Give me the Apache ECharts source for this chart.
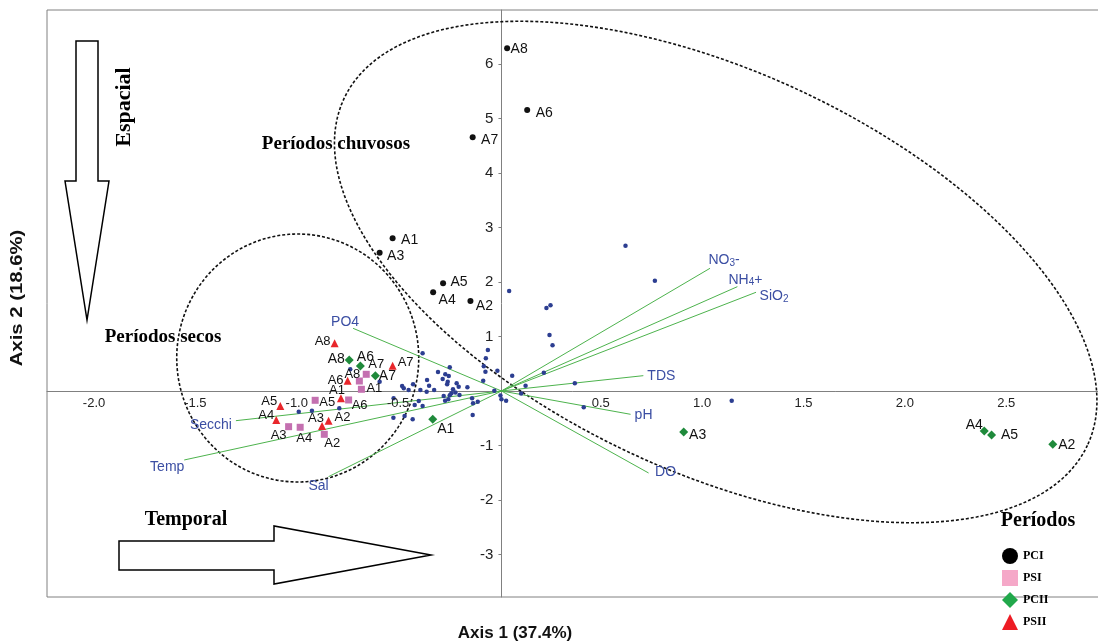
<!DOCTYPE html>
<html>
<head>
<meta charset="utf-8">
<script src="https://cdn.jsdelivr.net/npm/echarts@6/dist/echarts.min.js"></script>
<style>
  html, body { margin: 0; padding: 0; background: #ffffff; }
  #chart { width: 1098px; height: 644px; }
</style>
</head>
<body>
<div id="chart"></div>
<script>
// ---- PCA scores of the sampling sites (Axis 1, Axis 2), one list per period ----
const siteNames = ['A1', 'A2', 'A3', 'A4', 'A5', 'A6', 'A7', 'A8'];
const pciScores  = [[-0.537, 2.802], [-0.153, 1.651], [-0.601, 2.538], [-0.337, 1.811], [-0.288, 1.976], [0.127, 5.156], [-0.142, 4.655], [0.028, 6.288]];
const psiScores  = [[-0.691, 0.031], [-0.874, -0.795], [-1.050, -0.655], [-0.993, -0.666], [-0.919, -0.171], [-0.754, -0.165], [-0.667, 0.306], [-0.701, 0.183]];
const pciiScores = [[-0.339, -0.519], [2.720, -0.978], [0.899, -0.752], [2.382, -0.734], [2.418, -0.807], [-0.696, 0.459], [-0.622, 0.281], [-0.751, 0.569]];
const psiiScores = [[-0.792, -0.134], [-0.853, -0.545], [-0.885, -0.642], [-1.111, -0.532], [-1.091, -0.275], [-0.759, 0.189], [-0.537, 0.464], [-0.823, 0.875]];

// ---- individual samples ----
const sampleScores = [
  [0.612, 2.666], [0.757, 2.024], [0.038, 1.835], [0.222, 1.523], [0.242, 1.572], [0.237, 1.028],
  [0.252, 0.838], [0.209, 0.336], [0.362, 0.141], [0.406, -0.300], [1.136, -0.178], [0.053, 0.281],
  [0.119, 0.097], [0.097, -0.046], [-0.005, -0.083], [0.000, -0.153], [0.023, -0.178], [-0.035, 0.006],
  [-0.067, 0.752], [-0.077, 0.600], [-0.087, 0.453], [-0.079, 0.354], [-0.020, 0.372], [-0.090, 0.189],
  [-0.255, 0.435], [-0.313, 0.349], [-0.277, 0.306], [-0.260, 0.275], [-0.290, 0.220], [-0.265, 0.171],
  [-0.268, 0.123], [-0.367, 0.202], [-0.357, 0.097], [-0.221, 0.141], [-0.211, 0.079], [-0.168, 0.068],
  [-0.239, 0.031], [-0.490, 0.092], [-0.482, 0.050], [-0.436, 0.123], [-0.458, 0.018], [-0.400, 0.018],
  [-0.369, -0.012], [-0.332, 0.018], [-0.227, -0.030], [-0.207, -0.073], [-0.247, -0.043], [-0.255, -0.080],
  [-0.285, -0.092], [-0.278, -0.178], [-0.262, -0.153], [-0.145, -0.135], [-0.140, -0.226], [-0.117, -0.196],
  [-0.142, -0.440], [-0.408, -0.183], [-0.389, -0.275], [-0.428, -0.257], [-0.533, -0.490], [-0.478, -0.459],
  [-0.438, -0.519], [-0.532, -0.134], [-0.389, 0.692], [-1.000, -0.380], [-0.935, -0.361], [-0.800, -0.318],
  [-0.601, 0.171], [-0.746, 0.398]
];

// ---- environmental variable loadings ----
const variableNames = ['NO3-', 'NH4+', 'SiO2', 'TDS', 'pH', 'DO', 'PO4', 'Secchi', 'Temp', 'Sal'];
const variableLoadings = [[1.029, 2.251], [1.164, 1.914], [1.256, 1.811], [0.700, 0.281], [0.637, -0.428],
  [0.726, -1.505], [-0.732, 1.150], [-1.310, -0.545], [-1.565, -1.266], [-0.853, -1.572]];

// ---- grouping ellipses: centre, then the two semi-axis vectors ----
const groupEllipses = [
  [-1.005, 0.605, 0.597, 0.000, 0.000, 2.275],
  [1.057, 2.183, 1.834, -3.180, -0.418, -3.325]
];

// ---- axis ticks ----
const xTickValues = [-2, -1.5, -1, -0.5, 0.5, 1, 1.5, 2, 2.5];
const xTickLabels = ['-2.0', '-1.5', '-1.0', '-0.5', '0.5', '1.0', '1.5', '2.0', '2.5'];
const yTickValues = [-3, -2, -1, 1, 2, 3, 4, 5, 6];
const yTickLabels = ['-3', '-2', '-1', '1', '2', '3', '4', '5', '6'];

// ---- label placement (pixel offset from the mark), per site A1..A8 ----
const siteLabelOffsets = {
  PCI:  [[17, 2], [14, 5], [16, 3], [14, 8], [16, -1], [17, 3], [17, 3], [12, 1]],
  PSI:  [[13, -1], [8, 9], [-10, 9], [4, 11], [12, 2], [11, 5], [10, -10], [-7, -7]],
  PCII: [[13, 10], [14, 1], [14, 3], [-10, -6], [18, 0], [5, -9], [12, 0], [-13, -1]],
  PSII: [[-4, -8], [14, -3], [-6, -8], [-10, -5], [-11, -5], [-12, 0], [13, -3], [-12, -2]]
};
const variableLabelOffsets = [[14, -8], [8, -7], [18, 4], [18, 0], [13, 1], [17, -1], [-8, -6], [-25, 4], [-17, 7], [-10, 9]];
const variableRichText = {
  'NO3-': 'NO{s|3}-', 'NH4+': 'NH{s|4}+', 'SiO2': 'SiO{s|2}'
};

const SANS = '"Liberation Sans", Arial, sans-serif';
const SERIF = '"Liberation Serif", "Times New Roman", serif';

function siteData(scores, group) {
  return scores.map((p, i) => ({
    name: siteNames[i],
    value: p,
    label: { offset: siteLabelOffsets[group][i] }
  }));
}

function siteLabel(size) {
  return {
    show: true, position: 'inside', formatter: '{b}',
    color: '#111', fontFamily: SANS, fontSize: size
  };
}

const chart = echarts.init(document.getElementById('chart'), null, { renderer: 'canvas' });

const option = {
  animation: false,
  backgroundColor: '#ffffff',
  grid: {
    left: 47, top: 10, right: -1, bottom: 47,
    show: true, borderColor: '#808080', borderWidth: 1,
    containLabel: false, outerBoundsMode: 'none'
  },
  xAxis: {
    type: 'value', min: -2.242, max: 2.948,
    axisLine: { onZero: true, lineStyle: { color: '#808080', width: 1 } },
    axisTick: { show: false },
    splitLine: { show: false },
    axisLabel: { show: false }
  },
  yAxis: {
    type: 'value', min: -3.78, max: 6.99,
    axisLine: { onZero: true, lineStyle: { color: '#808080', width: 1 } },
    axisTick: { show: true, customValues: yTickValues, length: 3, lineStyle: { color: '#808080' } },
    splitLine: { show: false },
    axisLabel: { show: false }
  },
  legend: {
    orient: 'vertical', left: 997, top: 543,
    itemWidth: 16, itemHeight: 16, itemGap: 6,
    selectedMode: false,
    textStyle: { fontFamily: SERIF, fontWeight: 'bold', fontSize: 12, color: '#000' },
    data: [
      { name: 'PCI', icon: 'circle', itemStyle: { color: '#000000' } },
      { name: 'PSI', icon: 'rect', itemStyle: { color: '#f5a8c8' } },
      { name: 'PCII', icon: 'diamond', itemStyle: { color: '#21a84b' } },
      { name: 'PSII', icon: 'triangle', itemStyle: { color: '#ed1c24' } }
    ]
  },
  graphic: [
    // "Espacial" arrow pointing down
    { type: 'polygon', shape: { points: [[76, 41], [98, 41], [98, 181], [109, 181], [87, 320], [65, 181], [76, 181]] },
      style: { fill: '#ffffff', stroke: '#000', lineWidth: 1.5 } },
    { type: 'text', x: 125, y: 107, rotation: Math.PI / 2, scaleX: 1.1,
      style: { text: 'Espacial', font: 'bold 20px ' + SERIF, fill: '#000', align: 'center', verticalAlign: 'middle' } },
    // "Temporal" arrow pointing right
    { type: 'polygon', shape: { points: [[119, 541], [274, 541], [274, 526], [431, 555], [274, 584], [274, 570], [119, 570]] },
      style: { fill: '#ffffff', stroke: '#000', lineWidth: 1.5 } },
    { type: 'text', x: 186, y: 520,
      style: { text: 'Temporal', font: 'bold 20px ' + SERIF, fill: '#000', align: 'center', verticalAlign: 'middle' } },
    { type: 'text', x: 336, y: 144,
      style: { text: 'Períodos chuvosos', font: 'bold 19px ' + SERIF, fill: '#000', align: 'center', verticalAlign: 'middle' } },
    { type: 'text', x: 163, y: 337,
      style: { text: 'Períodos secos', font: 'bold 19px ' + SERIF, fill: '#000', align: 'center', verticalAlign: 'middle' } },
    { type: 'text', x: 1038, y: 521,
      style: { text: 'Períodos', font: 'bold 20px ' + SERIF, fill: '#000', align: 'center', verticalAlign: 'middle' } },
    // axis titles
    { type: 'text', x: 515, y: 633,
      style: { text: 'Axis 1 (37.4%)', font: 'bold 17px ' + SANS, fill: '#111', align: 'center', verticalAlign: 'middle' } },
    { type: 'text', x: 18, y: 298, rotation: Math.PI / 2, scaleX: 1.27,
      style: { text: 'Axis 2 (18.6%)', font: 'bold 16px ' + SANS, fill: '#111', align: 'center', verticalAlign: 'middle' } }
  ],
  series: [
    {
      // tick labels of Axis 1, sitting under the zero line
      type: 'custom', name: 'rotulosX', silent: true, z: 5,
      data: xTickValues.map(v => [v, 0]),
      renderItem: function (params, api) {
        const p = api.coord([api.value(0), api.value(1)]);
        return { type: 'text', x: p[0] - 2, y: p[1] + 6,
          style: { text: xTickLabels[params.dataIndex], fill: '#222', fontFamily: SANS, fontSize: 13,
            align: 'center', verticalAlign: 'top' } };
      }
    },
    {
      // tick labels of Axis 2, left of the zero line
      type: 'custom', name: 'rotulosY', silent: true, z: 5,
      data: yTickValues.map(v => [0, v]),
      renderItem: function (params, api) {
        const p = api.coord([api.value(0), api.value(1)]);
        return { type: 'text', x: p[0] - 8, y: p[1],
          style: { text: yTickLabels[params.dataIndex], fill: '#222', fontFamily: SANS, fontSize: 15,
            align: 'right', verticalAlign: 'middle' } };
      }
    },
    {
      // dashed grouping ellipses
      type: 'custom', name: 'grupos', silent: true, z: 1,
      data: groupEllipses,
      renderItem: function (params, api) {
        const cx = api.value(0), cy = api.value(1);
        const ux = api.value(2), uy = api.value(3), vx = api.value(4), vy = api.value(5);
        const pts = [];
        const n = 180;
        for (let k = 0; k < n; k++) {
          const t = 2 * Math.PI * k / n;
          pts.push(api.coord([cx + ux * Math.cos(t) + vx * Math.sin(t), cy + uy * Math.cos(t) + vy * Math.sin(t)]));
        }
        return {
          type: 'polygon', shape: { points: pts },
          style: { fill: 'none', stroke: '#111', lineWidth: 1.6, lineDash: [3, 2] }
        };
      }
    },
    {
      // environmental vectors
      type: 'custom', name: 'variaveis', silent: true, z: 2,
      data: variableLoadings,
      renderItem: function (params, api) {
        const i = params.dataIndex;
        const o = api.coord([0, 0]);
        const e = api.coord([api.value(0), api.value(1)]);
        const off = variableLabelOffsets[i];
        const name = variableNames[i];
        return {
          type: 'group',
          children: [
            { type: 'line', shape: { x1: o[0], y1: o[1], x2: e[0], y2: e[1] },
              style: { stroke: '#4db34d', lineWidth: 1 } },
            { type: 'text', x: e[0] + off[0], y: e[1] + off[1],
              style: {
                text: variableRichText[name] || name,
                fill: '#3b4ea3', fontFamily: SANS, fontSize: 14,
                align: 'center', verticalAlign: 'middle',
                rich: { s: { fontSize: 10, fill: '#3b4ea3', fontFamily: SANS, padding: [5, 0, 0, 0] } }
              } }
          ]
        };
      }
    },
    {
      type: 'scatter', name: 'amostras', silent: true, z: 3,
      symbol: 'circle', symbolSize: 4.5,
      itemStyle: { color: '#2c3e91', opacity: 1 },
      data: sampleScores
    },
    {
      type: 'scatter', name: 'PCI', z: 4,
      symbol: 'circle', symbolSize: 6,
      itemStyle: { color: '#111111', opacity: 1 },
      label: siteLabel(14),
      data: siteData(pciScores, 'PCI')
    },
    {
      type: 'scatter', name: 'PSI', z: 4,
      symbol: 'rect', symbolSize: 7,
      itemStyle: { color: '#c470b0', opacity: 1 },
      label: siteLabel(13),
      data: siteData(psiScores, 'PSI')
    },
    {
      type: 'scatter', name: 'PCII', z: 4,
      symbol: 'diamond', symbolSize: 9,
      itemStyle: { color: '#1f8a3b', opacity: 1 },
      label: siteLabel(14),
      data: siteData(pciiScores, 'PCII')
    },
    {
      type: 'scatter', name: 'PSII', z: 4,
      symbol: 'triangle', symbolSize: 8,
      itemStyle: { color: '#e8262b', opacity: 1 },
      label: siteLabel(13),
      data: siteData(psiiScores, 'PSII')
    }
  ]
};

chart.setOption(option);
</script>
</body>
</html>
